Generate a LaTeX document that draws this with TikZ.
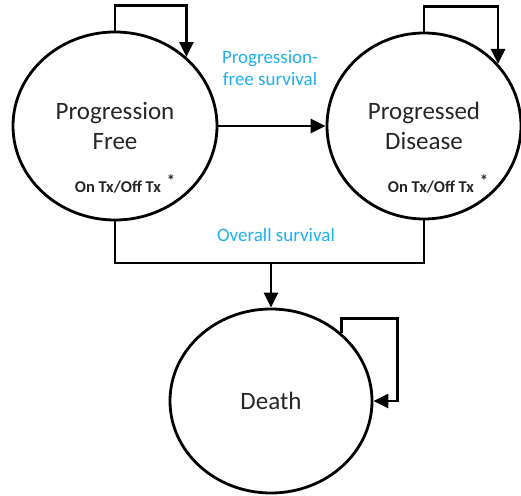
\documentclass[tikz,border=0pt]{standalone}
\usepackage{fontspec}
\setmainfont{Carlito}
\usetikzlibrary{shapes.geometric,arrows.meta,positioning}
\definecolor{survblue}{RGB}{30,176,240}
\tikzset{
  state/.style={draw, ellipse, line width=2.8pt, align=center, text=black!85,
    font=\fontsize{25}{30}\selectfont},
  flow/.style={line width=2.8pt, -{Triangle[length=15pt,width=14pt]}},
  bus/.style={line width=2.8pt},
  tx/.style={text=black!85, font=\fontsize{16.5}{18}\selectfont\bfseries},
  survlabel/.style={text=survblue, align=center, font=\fontsize{19}{22}\selectfont}
}

\begin{document}
\begin{tikzpicture}[x=1pt,y=1pt]
    \useasboundingbox (0,0) rectangle (521,495);
    % states
    \node[state, minimum width=204, minimum height=188] (pf) at (115,369) {Progression\\Free};
    \node[state, minimum width=194, minimum height=186] (pd) at (424,369) {Progressed\\Disease};
    \node[state, minimum width=202, minimum height=184] (death) at (271,94) {Death};
    \node[tx] (pftx) at ([xshift=10,yshift=-58]pf.center) {On Tx/Off Tx\hspace{6pt}\raisebox{6pt}{*}};
    \node[tx] (pdtx) at ([xshift=14,yshift=-58]pd.center) {On Tx/Off Tx\hspace{6pt}\raisebox{6pt}{*}};
    % labels
    \node[survlabel] (pfs) at (270,427) {Progression-\\free survival};
    \node[survlabel] (os) at (276,260) {Overall survival};
    % transitions
    \draw[flow] (pf.north) -- ++(0,25) -| (pf.44);
    \draw[flow] (pd.north) -- ++(0,25) -| (pd.40);
    \draw[flow] (pf.east) -- (pd.west);
    \coordinate (join) at (271,232);
    \draw[bus] (pf.south) |- (join) -| (pd.south);
    \draw[flow] (join) -- (death.north);
    \draw[flow] (death.44) |- ++(56,15) |- (death.east);
\end{tikzpicture}
\end{document}
